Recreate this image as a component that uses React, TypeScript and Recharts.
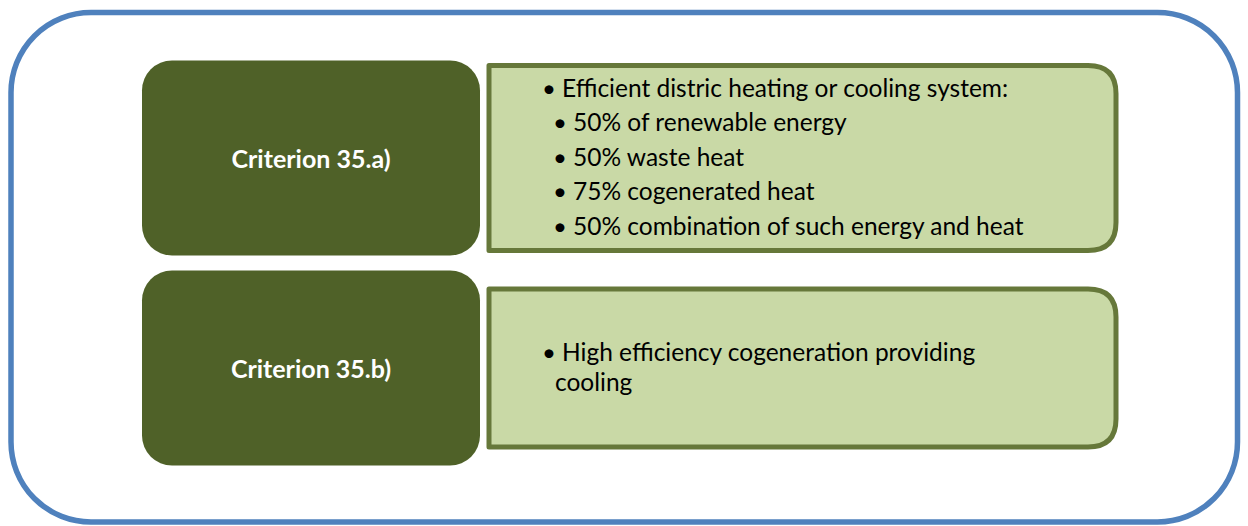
import { BarChart, Bar, XAxis, YAxis, Customized } from 'recharts';

const CRITERIA = ['Criterion 35.a)', 'Criterion 35.b)'];

const BULLETS_A = [
  'Efficient distric heating or cooling system:',
  '50% of renewable energy',
  '50% waste heat',
  '75% cogenerated heat',
  '50% combination of such energy and heat',
];
const LEVELS_A = [0, 1, 1, 1, 1];

const BULLETS_B = ['High efficiency cogeneration providing', 'cooling'];
const LEVELS_B = [0, 2];

const W = 1248;
const H = 526;
const FONT = 'Lato, "Open Sans", sans-serif';

// column spans across the page (layout, in px of the x scale)
const COL_LEAD = 142;
const COL_DARK = 338;
const COL_GAP = 7;
const COL_LIGHT = 631;

const data = CRITERIA.map((name, i) => ({
  name,
  lead: COL_LEAD,
  dark: COL_DARK,
  gap: COL_GAP,
  light: COL_LIGHT,
  lines: i === 0 ? BULLETS_A : BULLETS_B,
  levels: i === 0 ? LEVELS_A : LEVELS_B,
}));

const LIGHT_HEIGHT = [185, 158];
const LINE_STEP = [34.5, 30.5];
const FIRST_BASE = [96.5, 360.5];

function DarkBox(props: any) {
  const { x, y, width, height, payload } = props;
  return (
    <g>
      <rect x={x} y={y} width={width} height={height} rx={30} ry={30} fill="#4f6128" />
      <text
        x={x + width / 2}
        y={y + height / 2 + 9.5}
        textAnchor="middle"
        fill="#ffffff"
        fontFamily={FONT}
        fontWeight={700}
        fontSize={25}
      >
        {payload.name}
      </text>
    </g>
  );
}

function LightBox(props: any) {
  const { x, y, width, height, payload, index } = props;
  const h = LIGHT_HEIGHT[index];
  const cy = y + height / 2;
  const top = cy - h / 2;
  const bot = cy + h / 2;
  const l = x + 2;
  const r = x + width - 2;
  const rad = 28;
  const d = `M${l},${top} L${r - rad},${top} Q${r},${top} ${r},${top + rad} L${r},${bot - rad} Q${r},${bot} ${r - rad},${bot} L${l},${bot} Z`;
  return (
    <g>
      <path d={d} fill="#c9d9a6" stroke="#66783a" strokeWidth={5} strokeLinejoin="round" />
      {payload.lines.map((t: string, i: number) => {
        const lvl = payload.levels[i];
        const base = FIRST_BASE[index] + i * LINE_STEP[index];
        const bx = lvl === 1 ? 553 : 542;
        const tx = lvl === 1 ? 573 : lvl === 2 ? 555 : 562;
        return (
          <g key={i}>
            {lvl !== 2 && (
              <text x={bx} y={base} fill="#000" fontFamily={FONT} fontSize={24}>
                •
              </text>
            )}
            <text x={tx} y={base} fill="#000" fontFamily={FONT} fontSize={24.5}>
              {t}
            </text>
          </g>
        );
      })}
    </g>
  );
}

function Frame() {
  return (
    <rect x={11} y={12.5} width={1226.5} height={509.5} rx={80} ry={80} fill="none" stroke="#4f81bd" strokeWidth={5.5} />
  );
}

export default function App() {
  return (
    <div style={{ position: 'absolute', left: 0, top: 0, background: '#fff' }}>
      <BarChart
        width={W}
        height={H}
        data={data}
        layout="vertical"
        margin={{ top: 52.5, right: 0, bottom: 53.5, left: 0 }}
        barSize={195}
      >
        <XAxis type="number" domain={[0, W]} hide />
        <YAxis type="category" dataKey="name" hide />
        <Customized component={Frame} />
        <Bar dataKey="lead" stackId="a" fill="none" isAnimationActive={false} />
        <Bar dataKey="dark" stackId="a" shape={DarkBox} isAnimationActive={false} />
        <Bar dataKey="gap" stackId="a" fill="none" isAnimationActive={false} />
        <Bar dataKey="light" stackId="a" shape={LightBox} isAnimationActive={false} />
      </BarChart>
    </div>
  );
}
